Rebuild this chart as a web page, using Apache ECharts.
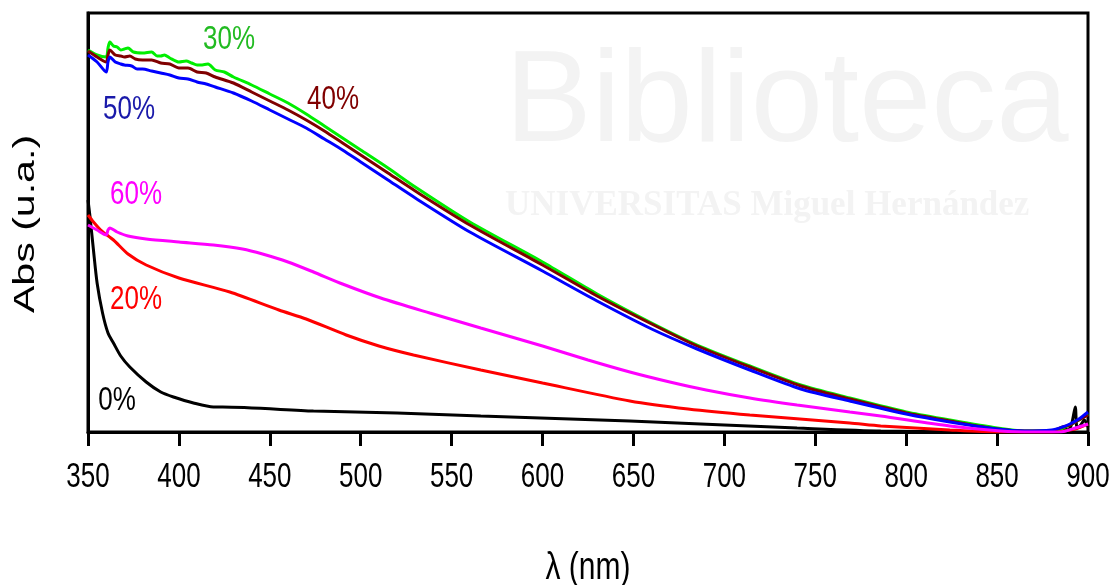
<!DOCTYPE html>
<html>
<head>
<meta charset="utf-8">
<script src="https://cdn.jsdelivr.net/npm/echarts@6/dist/echarts.min.js"></script>
<style>html,body{margin:0;padding:0;background:#fff}#c{width:1113px;height:585px}</style>
</head>
<body>
<div id="c"></div>
<script>
// x tick labels (nm)
const xTicks = [350, 400, 450, 500, 550, 600, 650, 700, 750, 800, 850, 900];

// 30 %
const wl30  = [350,355,360,361,362,364,366,368,370,372,375,380,385,388,390,392,395,400,404,407,410,412,416,420,425,430,440,450,460,470,480,490,500,515,530,560,600,630,660,685,714,742,769,800,824,850,865,880,886,890,895,900];
const abs30 = [382,377,375,384,390,386,385,382,383,384,380,379,380,376,376,377,374,370,371,369,367,367,368,362,360,355,347,338,329,318,306,294,282,264,245,210,170,138,109,87,66,47,34,20,12,4,1,1,4,7,12,18];
// 40 %
const wl40  = [350,355,360,361,362,365,368,370,373,376,380,385,390,395,400,405,410,415,420,430,440,450,460,470,480,490,500,515,530,560,600,630,660,685,714,742,769,800,824,850,865,880,886,890,895,900];
const abs40 = [381,375,370,377,382,377,376,375,376,373,372,372,369,368,364,364,360,359,355,349,340,331,322,312,301,289,277,259,241,207,167,136,108,86,65,46,33,19,11,3,1,1,5,7,12,17];
// 50 %
const wl50  = [350,355,360,361,362,365,368,370,374,377,380,385,390,395,400,405,410,415,420,430,440,450,460,470,480,490,500,515,530,560,600,630,660,685,714,742,769,800,824,850,865,880,886,890,895,900];
const abs50 = [377,370,360,370,375,370,368,367,366,363,363,361,359,357,354,353,350,348,345,339,331,322,313,304,293,282,270,252,234,200,161,131,103,83,62,43,31,18,10,3,1,2,5,8,13,20];
// 60 %
const wl60  = [350,355,360,361,362,366,372,382,400,419,435,446,460,474,490,511,538,566,600,625,648,670,690,714,740,769,786,824,852,870,885,893,900];
const abs60 = [207,202,197,202,204,200,196,193,190,187,183,178,170,160,148,134,119,104,86,72,60,50,42,34,27,20,16,6,1,0,0,4,8];
// 20 %
const wl20  = [350,353,357,364,372,382,400,428,455,470,492,510,529,566,600,648,680,714,769,786,824,850,880,893,900];
const abs20 = [217,210,202,192,178,167,154,140,122,113,97,86,77,62,49,31,23,17,9,6,2,0,0,3,8];
// 0 %
const wl0   = [350,351,353,355,358,361,364,368,373,382,390,397,408,419,424,474,520,566,648,700,740,786,850,880,886,889,891,893,894,896,898,900];
const abs0  = [232,217,182,149,119,99,89,76,65,50,40,35,29,25,25,21,19,16,11,7,4,1,0,0,4,2,8,25,4,7,12,5];

const seriesNames = ['0%', '20%', '30%', '40%', '50%', '60%'];
const seriesColors = ['#000000', '#ff0000', '#00ee00', '#800000', '#0000ff', '#ff00ff'];
const labelColors = ['#000000', '#ff0000', '#22bb22', '#800000', '#1a1aaa', '#ff00ff'];
const seriesX = [wl0, wl20, wl30, wl40, wl50, wl60];
const seriesY = [abs0, abs20, abs30, abs40, abs50, abs60];
// label centres (px)
const labelPos = [[117, 401], [136, 300], [229, 40], [333, 100], [129, 110], [136, 195]];

const chart = echarts.init(document.getElementById('c'), null, {renderer: 'canvas'});

const series = seriesNames.map((n, i) => ({
  name: n,
  type: 'line',
  showSymbol: false,
  symbol: 'none',
  smooth: 0.25,
  z: 2 + i,
  lineStyle: {color: seriesColors[i], width: 3},
  itemStyle: {color: seriesColors[i]},
  data: seriesX[i].map((x, k) => [x, seriesY[i][k]])
}));

chart.setOption({
  animation: false,
  backgroundColor: '#fff',
  grid: {left: 88, right: 25, top: 13, bottom: 153, show: true, borderColor: '#000', borderWidth: 3, backgroundColor: 'transparent'},
  xAxis: {
    type: 'value', min: xTicks[0], max: xTicks[xTicks.length - 1], interval: 50,
    axisLine: {show: true, lineStyle: {color: '#000', width: 3}},
    axisTick: {show: true, length: 14, lineStyle: {color: '#000', width: 3}},
    axisLabel: {show: false},
    splitLine: {show: false}
  },
  yAxis: {
    type: 'value', min: 0, max: 419,
    axisLine: {show: true, lineStyle: {color: '#000', width: 3}},
    axisTick: {show: false}, axisLabel: {show: false}, splitLine: {show: false}
  },
  series: series
});

const FONT = '"Liberation Sans", Arial, sans-serif';
const graphics = [
  {type: 'text', z: -10, silent: true, left: 505, top: 40,
   style: {text: 'Biblioteca', font: '130px "Liberation Sans"', fill: '#f3f3f3'}},
  {type: 'text', z: -10, silent: true, left: 505, top: 188,
   style: {text: 'UNIVERSITAS Miguel Hernández', font: 'bold 35px "Liberation Serif"', fill: '#f3f3f3'}}
];
// tick labels placed through the x axis scale
const axisY = chart.convertToPixel({yAxisIndex: 0}, 0);
xTicks.forEach(t => {
  const px = chart.convertToPixel({xAxisIndex: 0}, t);
  graphics.push({type: 'text', z: 100, x: px, y: axisY + 45, scaleY: 1.35,
    style: {text: String(t), fill: '#000', font: '26px ' + FONT, align: 'center', verticalAlign: 'middle'}});
});
seriesNames.forEach((n, i) => {
  graphics.push({type: 'text', z: 100, x: labelPos[i][0], y: labelPos[i][1], scaleY: 1.3,
    style: {text: n, fill: labelColors[i], font: '26px ' + FONT, align: 'center', verticalAlign: 'middle'}});
});
graphics.push({type: 'text', z: 100, x: 588, y: 568, scaleY: 1.3,
  style: {text: 'λ (nm)', fill: '#000', font: '30px ' + FONT, align: 'center', verticalAlign: 'middle'}});
graphics.push({type: 'text', z: 100, x: 26, y: 224, rotation: Math.PI / 2, scaleX: 1.37,
  style: {text: 'Abs (u.a.)', fill: '#000', font: '30px ' + FONT, align: 'center', verticalAlign: 'middle'}});

chart.setOption({graphic: graphics});
</script>
</body>
</html>
